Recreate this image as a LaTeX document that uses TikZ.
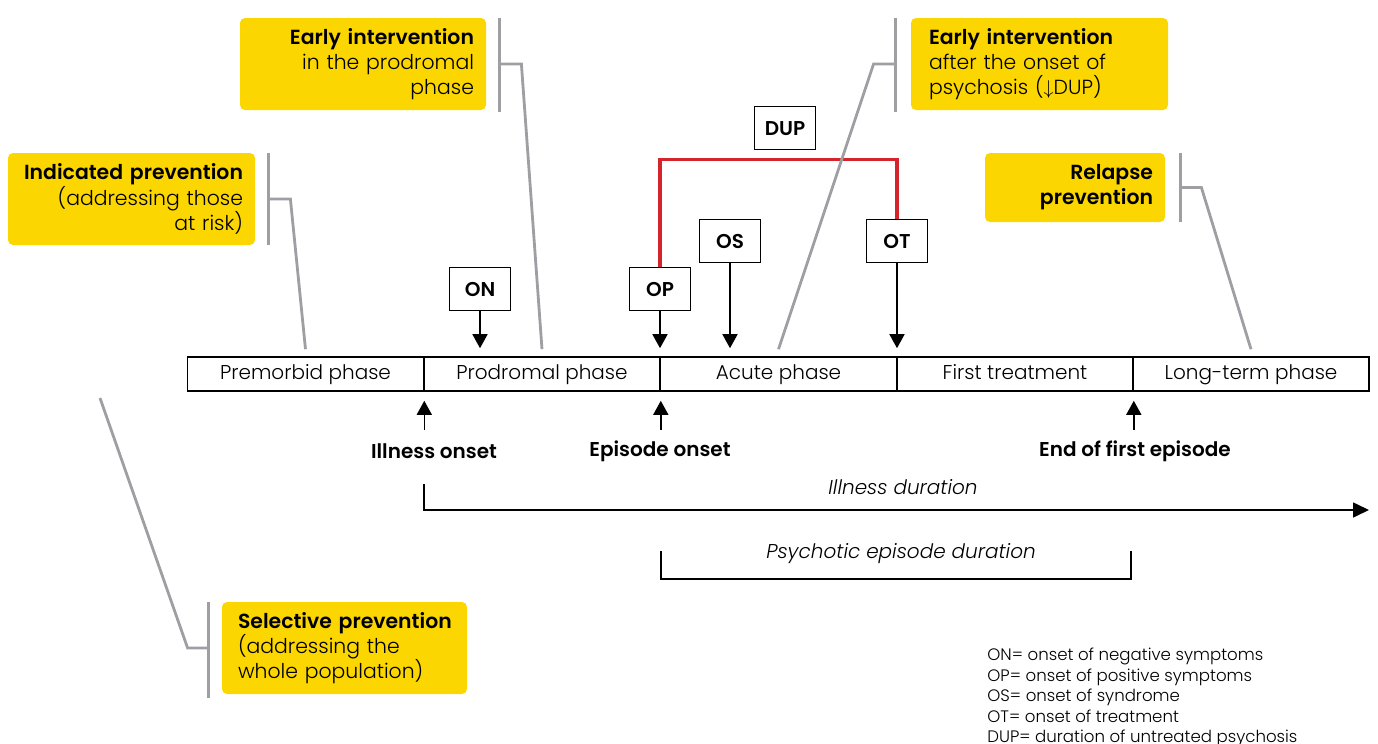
\documentclass[tikz,border=0pt]{standalone}
\usepackage{fontspec}
\setmainfont{Poppins}[UprightFont={Poppins Light}, ItalicFont={Poppins Light Italic}, BoldFont={Poppins SemiBold}]
\usetikzlibrary{arrows.meta}
\definecolor{boxyellow}{RGB}{251,214,0}
\definecolor{bracketgrey}{RGB}{158,158,163}
\definecolor{dupred}{RGB}{214,36,44}
\tikzset{
  phase/.style={draw, line width=0.8pt, minimum width=118pt, minimum height=17pt, inner sep=0pt, text height=7.3pt, text depth=2.2pt, font=\fontsize{10}{12}\selectfont},
  onsetbox/.style={draw, line width=0.9pt, minimum width=30.5pt, minimum height=21.5pt, inner sep=0pt, text height=7.3pt, text depth=0pt, font=\bfseries\fontsize{10}{12}\selectfont},
  yellowbox/.style={fill=boxyellow, rounded corners=2.5pt, inner xsep=6pt, inner ysep=0pt, minimum height=46pt, font=\fontsize{10.2}{12.6}\selectfont},
  eventlabel/.style={font=\bfseries\fontsize{10}{12}\selectfont},
  durlabel/.style={font=\itshape\fontsize{10}{12}\selectfont},
  greyline/.style={draw=bracketgrey, line width=1.4pt},
  redline/.style={draw=dupred, line width=1.6pt},
  tip/.style={line width=0.8pt, -{Triangle[width=7.5pt,length=7pt]}}
}
\begin{document}
\begin{tikzpicture}[x=0.5pt, y=-0.5pt]
\useasboundingbox (0,0) rectangle (1378,744);

\node[phase] (pre) at (305.5,374) {Premorbid phase};
\node[phase] (pro) at (542,374) {Prodromal phase};
\node[phase] (acu) at (778.5,374) {Acute phase};
\node[phase] (fir) at (1015,374) {First treatment};
\node[phase] (lon) at (1251,374) {Long-term phase};

\node[onsetbox] (ON) at (480,289) {ON};
\node[onsetbox] (OP) at (660,289) {OP};
\node[onsetbox] (OS) at (730,241) {OS};
\node[onsetbox] (OT) at (897,241) {OT};
\node[onsetbox] (DUP) at (785,128) {DUP};

\draw[tip, shorten >=4pt] (ON.south) -- (ON.south |- pro.north);
\draw[tip, shorten >=4pt] (OP.south) -- (OP.south |- pro.north);
\draw[tip, shorten >=4pt] (OS.south) -- (OS.south |- acu.north);
\draw[tip, shorten >=4pt] (OT.south) -- (OT.south |- acu.north);
\draw[redline] (OP.north) |- ([yshift=-4.5pt]DUP.south) -| (OT.north);

\node[eventlabel] (illon) at (434,451) {Illness onset};
\node[eventlabel] (epion) at (660,451) {Episode onset};
\node[eventlabel] (epiend) at (1135,451) {End of first episode};
\draw[tip, shorten >=4.5pt] ([yshift=-19pt]pre.south east) -- (pre.south east);
\draw[tip, shorten >=4.5pt] ([yshift=-19pt]pro.south east) -- (pro.south east);
\draw[tip, shorten >=4.5pt] ([yshift=-19pt]fir.south east) -- (fir.south east);

\coordinate (durstart) at (424,484);
\coordinate (durend) at (1369,510);
\draw[line width=0.8pt, -{Triangle[width=7.5pt,length=8pt]}] (durstart) |- (durend);
\node[durlabel] (illdur) at (903,487) {Illness duration};

\coordinate (psyleft) at (661,551);
\coordinate (psyright) at (1131,551);
\draw[line width=0.8pt] (psyleft) -- ++(0,28) -| (psyright);
\node[durlabel] (psydur) at (901,554) {Psychotic episode duration};

\node[yellowbox, text width=111pt, align=right] (prodEI) at (363,64) {\textbf{Early intervention}\\in the prodromal\\phase};
\node[yellowbox, text width=111.5pt, align=right] (indic) at (131.5,199) {\textbf{Indicated prevention}\\(addressing those\\at risk)};
\node[yellowbox, text width=116.5pt, align=left, inner xsep=6pt] (onsetEI) at (1039.5,64) {\hspace*{3pt}\textbf{Early intervention}\\\hspace*{3pt}after the onset of\\\hspace*{3pt}psychosis ($\downarrow$DUP)};
\node[yellowbox, text width=78pt, align=right, minimum height=34.5pt] (relapse) at (1075,187.5) {\textbf{Relapse}\\\textbf{prevention}};
\node[yellowbox, text width=110.5pt, align=left] (select) at (344.5,648) {\hspace*{2pt}\textbf{Selective prevention}\\\hspace*{2pt}(addressing the\\\hspace*{2pt}whole population)};

\draw[greyline] ([xshift=6.5pt]prodEI.north east) -- ([xshift=6.5pt,yshift=-1pt]prodEI.south east);
\draw[greyline] ([xshift=6.5pt]prodEI.east) -- ++(22,0) -- ([yshift=3.5pt]pro.north);
\draw[greyline] ([xshift=6.5pt]indic.north east) -- ([xshift=6.5pt]indic.south east);
\draw[greyline] ([xshift=6.5pt]indic.east) -- ++(22,0) -- ([yshift=3.5pt]pre.north);
\draw[greyline] ([xshift=-7.5pt]onsetEI.north west) -- ([xshift=-7.5pt,yshift=-1pt]onsetEI.south west);
\draw[greyline] ([xshift=-7.5pt]onsetEI.west) -- ++(-22,0) -- ([yshift=3.5pt]acu.north);
\draw[greyline] ([xshift=7.5pt]relapse.north east) -- ([xshift=7.5pt]relapse.south east);
\draw[greyline] ([xshift=7.5pt]relapse.east) -- ++(21,0) -- ([yshift=3.5pt]lon.north);
\coordinate (selfoot) at (100,398);
\draw[greyline] ([xshift=-6.5pt]select.north west) -- ([xshift=-6.5pt,yshift=-2pt]select.south west);
\draw[greyline] ([xshift=-6.5pt]select.west) -- ++(-21,0) -- (selfoot);

\node[anchor=north west, align=left, inner sep=0pt, font=\fontsize{8.3}{10.25}\selectfont] (legend) at (987,648) {ON= onset of negative symptoms\\OP= onset of positive symptoms\\OS= onset of syndrome\\OT= onset of treatment\\DUP= duration of untreated psychosis};
\end{tikzpicture}
\end{document}
